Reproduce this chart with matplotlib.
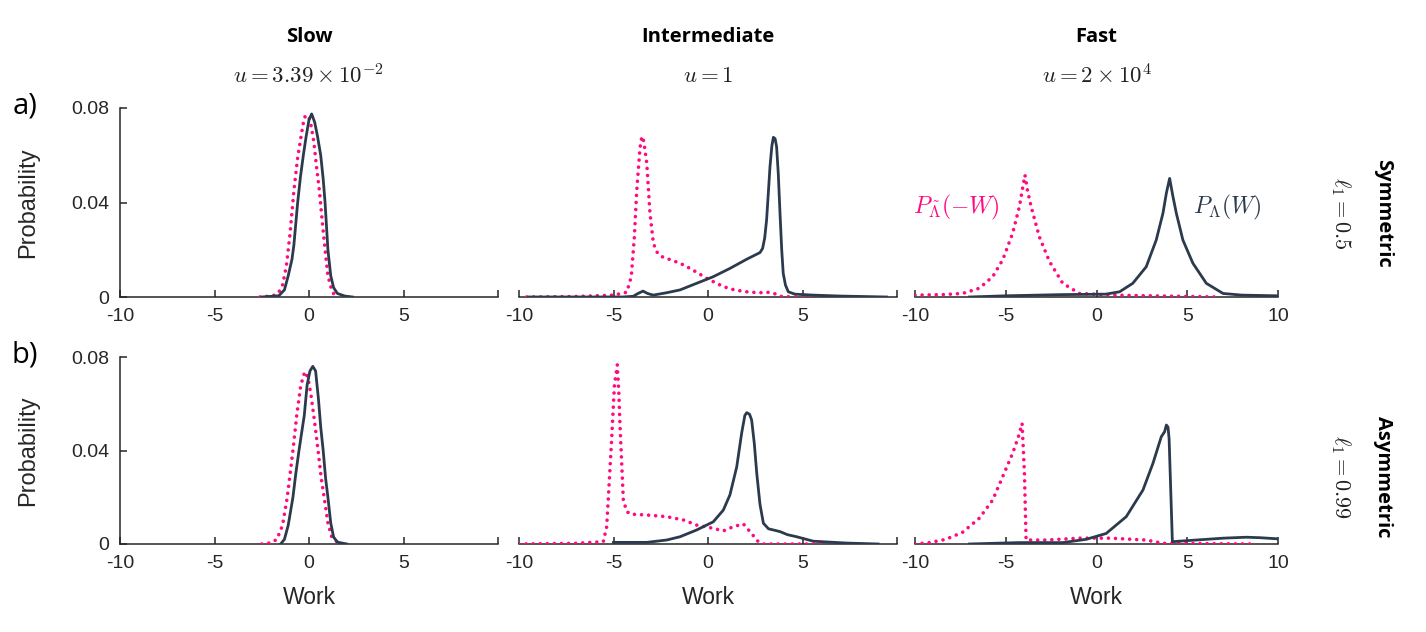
import matplotlib
matplotlib.use('Agg')
import matplotlib.pyplot as plt

plt.rcParams['font.family'] = ['Liberation Sans', 'DejaVu Sans']
plt.rcParams['mathtext.fontset'] = 'cm'

# column / row labels
speeds = ['Slow', 'Intermediate', 'Fast']
speed_vals = [r'$u = 3.39 \times 10^{-2}$', r'$u = 1$', r'$u = 2 \times 10^{4}$']
protocols = ['Symmetric', 'Asymmetric']
ell_vals = [r'$\ell_1 = 0.5$', r'$\ell_1 = 0.99$']
row_tags = ['a)', 'b)']

xticks = [-10, -5, 0, 5, 10]
yticks = [0, 0.04, 0.08]
ytick_labels = ['0', '0.04', '0.08']

# --- symmetric, slow ---
slow_sym_w_fwd = [-2.5, -1.6, -1.3, -1.1, -0.9, -0.8, -0.6, -0.45, -0.3, -0.15, 0.0, 0.14, 0.3, 0.45,
                  0.62, 0.75, 0.85, 1.0, 1.15, 1.3, 1.5, 1.9, 2.3]
slow_sym_p_fwd = [0, 0.0005, 0.003, 0.009, 0.016, 0.022, 0.040, 0.051, 0.060, 0.068, 0.075, 0.0775, 0.074, 0.068,
                  0.060, 0.050, 0.040, 0.020, 0.009, 0.004, 0.0015, 0.0004, 0]
slow_sym_w_rev = [-2.6, -1.9, -1.6, -1.4, -1.2, -1.0, -0.8, -0.6, -0.4, -0.25, -0.1, 0.0, 0.1, 0.25,
                  0.4, 0.55, 0.7, 0.85, 1.0, 1.2, 1.4]
slow_sym_p_rev = [0, 0.0005, 0.002, 0.005, 0.013, 0.027, 0.045, 0.059, 0.069, 0.076, 0.077, 0.076, 0.073, 0.066,
                  0.055, 0.045, 0.032, 0.020, 0.009, 0.003, 0]

# --- symmetric, intermediate ---
inter_sym_w_fwd = [-9.5, -4.5, -3.96, -3.7, -3.44, -3.2, -2.9, -2.19, -1.48, -0.6, 0.28, 1.16, 2.05, 2.75,
                   2.89, 3.0, 3.1, 3.2, 3.28, 3.38, 3.46, 3.55, 3.63, 3.72, 3.81, 3.9, 3.98, 4.1, 4.25,
                   4.6, 5.57, 7.0, 9.45]
inter_sym_p_fwd = [0, 0, 0.0003, 0.0015, 0.0025, 0.0015, 0.0008, 0.0018, 0.003, 0.0058, 0.0086, 0.0121, 0.016,
                   0.0188, 0.0206, 0.025, 0.0326, 0.045, 0.0552, 0.064, 0.0676, 0.067, 0.0636, 0.052, 0.0354,
                   0.02, 0.01, 0.005, 0.0022, 0.0012, 0.0008, 0.0004, 0]
inter_sym_w_rev = [-9.6, -7.0, -5.0, -4.3, -4.06, -3.9, -3.77, -3.6, -3.5, -3.4, -3.24, -3.07, -2.89, -2.7,
                   -2.45, -2.0, -1.48, -0.95, -0.5, -0.07, 0.4, 0.81, 1.4, 2.05, 2.7, 3.28, 3.6, 3.81,
                   4.5, 5.9]
inter_sym_p_rev = [0, 0.0002, 0.0008, 0.002, 0.0086, 0.025, 0.045, 0.063, 0.068, 0.066, 0.0566, 0.0355, 0.0227,
                   0.019, 0.0171, 0.0158, 0.0143, 0.0121, 0.010, 0.0079, 0.006, 0.0044, 0.003, 0.0022, 0.0018,
                   0.002, 0.0012, 0.0003, 0, 0]

# --- symmetric, fast ---
fast_sym_w_fwd = [-7.0, -5.0, -2.0, 0.5, 1.27, 2.0, 2.74, 3.29, 3.66, 3.85, 4.03, 4.2, 4.4, 4.76, 5.31,
                  6.05, 6.97, 8.0, 10]
fast_sym_p_fwd = [0, 0.0005, 0.001, 0.0012, 0.0022, 0.0058, 0.0128, 0.0241, 0.0354, 0.044, 0.0502, 0.043,
                  0.0354, 0.0241, 0.0143, 0.0058, 0.0015, 0.0008, 0.0005]
fast_sym_w_rev = [-10.0, -8.5, -7.38, -6.46, -5.72, -5.17, -4.62, -4.25, -4.05, -3.94, -3.8, -3.6, -3.15,
                  -2.59, -1.86, -0.94, 0.9, 3.0, 6.8]
fast_sym_p_rev = [0.0008, 0.001, 0.0015, 0.0037, 0.0086, 0.0157, 0.027, 0.0382, 0.047, 0.0516, 0.045, 0.0382,
                  0.0255, 0.015, 0.0058, 0.0015, 0.0008, 0.0005, 0]

# --- asymmetric, slow ---
slow_asym_w_fwd = [-1.5, -1.3, -1.1, -0.85, -0.7, -0.53, -0.4, -0.25, -0.1, 0.05, 0.2, 0.35, 0.5, 0.62,
                   0.75, 0.88, 1.0, 1.15, 1.3, 1.5, 2.0]
slow_asym_p_fwd = [0, 0.002, 0.008, 0.020, 0.030, 0.040, 0.047, 0.055, 0.068, 0.074, 0.076, 0.074, 0.062,
                   0.050, 0.040, 0.028, 0.020, 0.009, 0.003, 0.0008, 0]
slow_asym_w_rev = [-2.5, -2.0, -1.7, -1.4, -1.15, -1.0, -0.85, -0.65, -0.45, -0.3, -0.2, -0.05, 0.1, 0.3,
                   0.48, 0.65, 0.8, 1.0, 1.2, 1.5, 1.8]
slow_asym_p_rev = [0, 0.0005, 0.002, 0.008, 0.020, 0.030, 0.040, 0.055, 0.067, 0.072, 0.0737, 0.071, 0.064,
                   0.052, 0.040, 0.028, 0.020, 0.009, 0.003, 0.0008, 0]

# --- asymmetric, intermediate ---
inter_asym_w_fwd = [-5.0, -3.24, -2.19, -1.48, -0.6, 0.28, 0.81, 1.16, 1.52, 1.78, 1.95, 2.05, 2.2, 2.31,
                    2.45, 2.58, 2.75, 2.93, 3.2, 3.46, 3.81, 4.2, 4.69, 5.57, 7.34, 9.0]
inter_asym_p_fwd = [0.0007, 0.0007, 0.0017, 0.0031, 0.006, 0.0095, 0.0145, 0.021, 0.033, 0.0474, 0.055,
                    0.0562, 0.0555, 0.053, 0.043, 0.0302, 0.017, 0.0089, 0.0065, 0.006, 0.0053, 0.004,
                    0.0031, 0.0012, 0.0004, 0]
inter_asym_w_rev = [-10, -7.0, -5.54, -5.36, -5.1, -4.95, -4.8, -4.72, -4.66, -4.48, -4.3, -4.13, -3.24,
                    -2.19, -1.31, -0.6, 0.28, 0.81, 1.34, 1.87, 2.22, 2.66, 2.93, 6.28]
inter_asym_p_rev = [0, 0.0003, 0.001, 0.0074, 0.0445, 0.068, 0.0766, 0.065, 0.0516, 0.0188, 0.014, 0.0128,
                    0.0124, 0.0117, 0.0103, 0.0081, 0.0067, 0.0056, 0.0074, 0.0086, 0.0053, 0.001, 0, 0]

# --- asymmetric, fast ---
fast_asym_w_fwd = [-7.0, -4.25, -1.86, -0.57, 0.53, 1.64, 2.56, 3.11, 3.57, 3.75, 3.85, 3.94, 4.0, 4.18,
                   5.5, 7.0, 8.26, 9.0, 10]
fast_asym_p_fwd = [0, 0.0006, 0.0006, 0.002, 0.0045, 0.0117, 0.0231, 0.0345, 0.0459, 0.048, 0.0509, 0.050,
                   0.045, 0.001, 0.0017, 0.0025, 0.0029, 0.0027, 0.0022]
fast_asym_w_rev = [-10, -9.2, -8.3, -7.38, -6.46, -5.72, -5.17, -4.62, -4.3, -4.1, -3.97, -3.88, -2.78,
                   -0.94, 0.72, 2.74, 3.66, 8.63]
fast_asym_p_rev = [0, 0.0006, 0.002, 0.005, 0.011, 0.0188, 0.0288, 0.0388, 0.046, 0.0516, 0.0302, 0.0017,
                   0.0017, 0.0025, 0.0025, 0.0017, 0.0003, 0]

fwd_color = '#2b3a4d'
rev_color = '#ff0a7f'
axis_color = '#262626'

W, H = 1426, 632


def box(left, right, top, bottom):
    # pixel box -> figure fraction
    return [left / W, 1 - bottom / H, (right - left) / W, (bottom - top) / H]


def plot(ax, w_fwd, p_fwd, w_rev, p_rev, first_col, last_col, bottom_row):
    ax.plot(w_rev, p_rev, color=rev_color, lw=2.6, linestyle=(0, (0.01, 1.95)),
            dash_capstyle='round', zorder=3)
    ax.plot(w_fwd, p_fwd, color=fwd_color, lw=2.0, solid_joinstyle='round', zorder=4)
    ax.set_xlim(-10, 10)
    ax.set_ylim(0, 0.08)
    ax.set_xticks(xticks)
    if last_col:
        ax.set_xticklabels([str(t) for t in xticks])
    else:
        ax.set_xticklabels([str(t) for t in xticks[:-1]] + [''])
    for s in ['top', 'right']:
        ax.spines[s].set_visible(False)
    ax.spines['bottom'].set_color(axis_color)
    ax.spines['bottom'].set_linewidth(1.1)
    if first_col:
        ax.spines['left'].set_color(axis_color)
        ax.spines['left'].set_linewidth(1.1)
        ax.set_yticks(yticks)
        ax.set_yticklabels(ytick_labels)
        ax.set_ylabel('Probability', fontsize=17, color=axis_color, labelpad=23)
    else:
        ax.spines['left'].set_visible(False)
        ax.set_yticks([])
    ax.tick_params(direction='in', length=5, width=1.1, color=axis_color,
                   labelsize=14, labelcolor=axis_color, pad=8)
    if bottom_row:
        ax.set_xlabel('Work', fontsize=16.5, color=axis_color, labelpad=10)
    ax.patch.set_alpha(0)


fig = plt.figure(figsize=(W / 100, H / 100), dpi=100)

col_px = [(120, 498), (519, 897), (915, 1278)]
row_px = [(108, 297), (357, 544)]

data = [
    [(slow_sym_w_fwd, slow_sym_p_fwd, slow_sym_w_rev, slow_sym_p_rev),
     (inter_sym_w_fwd, inter_sym_p_fwd, inter_sym_w_rev, inter_sym_p_rev),
     (fast_sym_w_fwd, fast_sym_p_fwd, fast_sym_w_rev, fast_sym_p_rev)],
    [(slow_asym_w_fwd, slow_asym_p_fwd, slow_asym_w_rev, slow_asym_p_rev),
     (inter_asym_w_fwd, inter_asym_p_fwd, inter_asym_w_rev, inter_asym_p_rev),
     (fast_asym_w_fwd, fast_asym_p_fwd, fast_asym_w_rev, fast_asym_p_rev)],
]

axes = []
for r in range(2):
    row = []
    for c in range(3):
        ax = fig.add_axes(box(col_px[c][0], col_px[c][1], row_px[r][0], row_px[r][1]))
        plot(ax, *data[r][c], first_col=(c == 0), last_col=(c == 2), bottom_row=(r == 1))
        row.append(ax)
    axes.append(row)

# column headers
for c in range(3):
    xc = (col_px[c][0] + col_px[c][1]) / 2 / W
    fig.text(xc, 1 - 37 / H, speeds[c], ha='center', va='center', fontsize=14.5,
             fontweight='bold', family=['Open Sans', 'DejaVu Sans'], color='black')
    fig.text(xc, 1 - 76 / H, speed_vals[c], ha='center', va='center', fontsize=16.5, color='#222222')

# row tags and right-hand labels
for r in range(2):
    fig.text(25 / W, 1 - (row_px[r][0] - 2) / H, row_tags[r], ha='center', va='center', fontsize=21,
             family=['Open Sans', 'DejaVu Sans'], color='black')
    yc = 1 - (213 if r == 0 else 477) / H
    fig.text(1383 / W, yc, protocols[r], ha='center', va='center', rotation=-90, fontsize=14.5,
             fontweight='bold', family=['Open Sans', 'DejaVu Sans'], color='black')
    fig.text(1341 / W, yc, ell_vals[r], ha='center', va='center', rotation=-90, fontsize=16,
             color='#222222')

# curve annotations in the fast symmetric panel
ax = axes[0][2]
ax.text(-7.7, 0.038, r'$P_{\tilde{\Lambda}}(-W)$', color=rev_color, fontsize=17, ha='center', va='center')
ax.text(7.2, 0.038, r'$P_{\Lambda}(W)$', color=fwd_color, fontsize=17, ha='center', va='center')

plt.savefig('out.png', dpi=100)
